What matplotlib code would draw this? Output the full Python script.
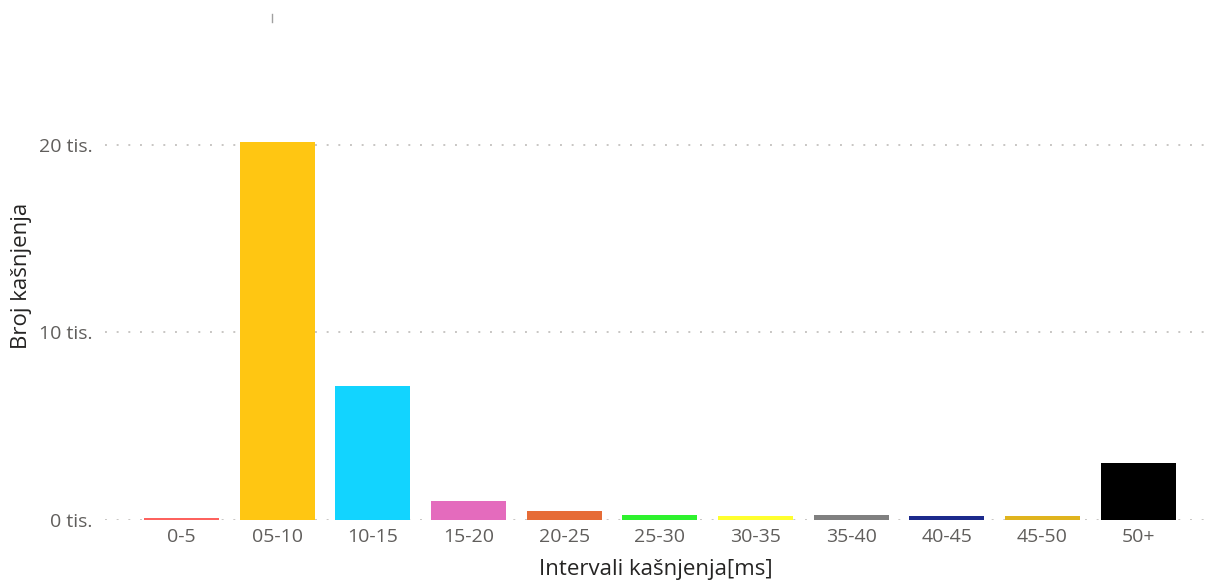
"""
Broj kasnjenja po intervalima (bar chart)
"""

import numpy as np
import matplotlib.pyplot as plt
from matplotlib.lines import Line2D

intervals = ["0-5", "05-10", "10-15", "15-20", "20-25", "25-30",
             "30-35", "35-40", "40-45", "45-50", "50+"]
counts = [130, 20130, 7150, 1040, 470, 275, 240, 275, 240, 225, 3060]
colors = ["#FD625E", "#FFC612", "#12D4FF", "#E46BBD", "#E66C37", "#2EF22E",
          "#FFFF2E", "#808080", "#1C2A8C", "#E0B41E", "#000000"]
y_ticks = [0, 10000, 20000]
y_tick_labels = ["0 tis.", "10 tis.", "20 tis."]

plt.rcParams['font.family'] = ['Open Sans', 'DejaVu Sans']

fig = plt.figure(figsize=(12.07, 5.80), dpi=100)
ax = fig.add_axes([0.087, 0.1034, 0.913, 0.843])

x = np.arange(len(intervals))
ax.bar(x, counts, width=0.785, color=colors, zorder=3)

ax.set_xlim(-0.8, 10.72)
ax.set_ylim(0, 26060)
ax.set_xticks(x)
ax.set_xticklabels(intervals, fontsize=14, color="#605E5C")
ax.set_yticks(y_ticks)
ax.set_yticklabels(y_tick_labels, fontsize=14, color="#605E5C")
ax.tick_params(length=0)
ax.tick_params(axis="y", pad=9)
ax.tick_params(axis="x", pad=6)

ax.grid(axis="y", color="#C8C6C4", linestyle=(0, (1, 5)), linewidth=1.4, zorder=0)
for s in ax.spines.values():
    s.set_visible(False)

ax.set_xlabel("Intervali kašnjenja[ms]", fontsize=16, color="#252423", labelpad=9)
ax.set_ylabel("Broj kašnjenja", fontsize=16, color="#252423", labelpad=5)

# small grey marker at top left of the visual
fig.add_artist(Line2D([272 / 1207, 272 / 1207], [1 - 14 / 580, 1 - 22 / 580],
                      color="#A0A0A0", linewidth=1))

fig.savefig("out.png", dpi=100)
